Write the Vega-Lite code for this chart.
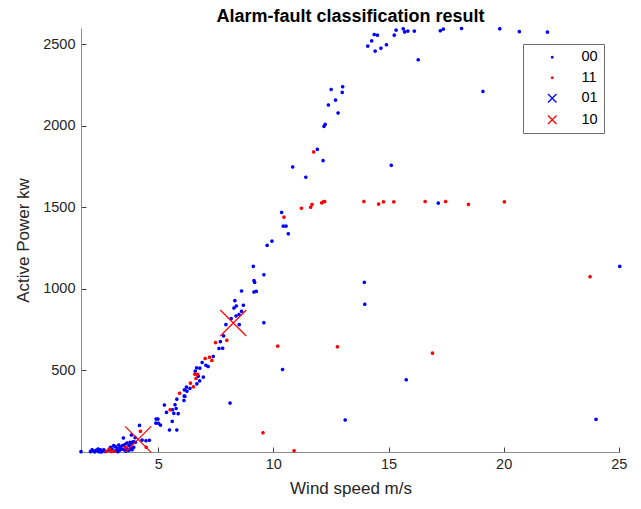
{
  "$schema": "https://vega.github.io/schema/vega-lite/v6.json",
  "width": 539,
  "height": 424,
  "autosize": {"type": "none"},
  "padding": {"left": 81, "top": 28, "right": 21, "bottom": 57},
  "background": "white",
  "title": {
    "text": "Alarm-fault classification result",
    "font": "Liberation Sans",
    "fontSize": 18,
    "fontWeight": "bold",
    "color": "#000000",
    "anchor": "middle",
    "offset": 1
  },
  "config": {
    "view": {"stroke": null},
    "axis": {
      "grid": false,
      "domainColor": "#8c8c8c",
      "domainWidth": 1,
      "tickColor": "#404040",
      "tickSize": -5,
      "tickWidth": 1,
      "labelFont": "Liberation Sans",
      "labelFontSize": 14.5,
      "labelColor": "#262626",
      "titleFont": "Liberation Sans",
      "titleFontSize": 17,
      "titleFontWeight": "normal",
      "titleColor": "#262626"
    }
  },
  "data": {
    "values": [
      {"wind": 10.84, "power": 1748, "class": "00"},
      {"wind": 11.41, "power": 1685, "class": "00"},
      {"wind": 11.91, "power": 1856, "class": "00"},
      {"wind": 12.16, "power": 1787, "class": "00"},
      {"wind": 12.2, "power": 1997, "class": "00"},
      {"wind": 12.25, "power": 2009, "class": "00"},
      {"wind": 12.39, "power": 2128, "class": "00"},
      {"wind": 12.51, "power": 2223, "class": "00"},
      {"wind": 12.7, "power": 2158, "class": "00"},
      {"wind": 12.81, "power": 2079, "class": "00"},
      {"wind": 12.99, "power": 2205, "class": "00"},
      {"wind": 13.01, "power": 2240, "class": "00"},
      {"wind": 14.1, "power": 2489, "class": "00"},
      {"wind": 14.27, "power": 2521, "class": "00"},
      {"wind": 14.38, "power": 2560, "class": "00"},
      {"wind": 14.52, "power": 2556, "class": "00"},
      {"wind": 14.42, "power": 2458, "class": "00"},
      {"wind": 14.67, "power": 2476, "class": "00"},
      {"wind": 14.91, "power": 2497, "class": "00"},
      {"wind": 15.25, "power": 2556, "class": "00"},
      {"wind": 15.33, "power": 2587, "class": "00"},
      {"wind": 15.64, "power": 2595, "class": "00"},
      {"wind": 15.7, "power": 2576, "class": "00"},
      {"wind": 15.84, "power": 2581, "class": "00"},
      {"wind": 16.12, "power": 2581, "class": "00"},
      {"wind": 16.29, "power": 2405, "class": "00"},
      {"wind": 15.12, "power": 1758, "class": "00"},
      {"wind": 17.25, "power": 2583, "class": "00"},
      {"wind": 17.38, "power": 2593, "class": "00"},
      {"wind": 18.17, "power": 2597, "class": "00"},
      {"wind": 19.83, "power": 2595, "class": "00"},
      {"wind": 20.68, "power": 2578, "class": "00"},
      {"wind": 21.9, "power": 2575, "class": "00"},
      {"wind": 19.1, "power": 2211, "class": "00"},
      {"wind": 17.16, "power": 1526, "class": "00"},
      {"wind": 13.95, "power": 1040, "class": "00"},
      {"wind": 13.97, "power": 906, "class": "00"},
      {"wind": 15.77, "power": 443, "class": "00"},
      {"wind": 13.12, "power": 196, "class": "00"},
      {"wind": 25.04, "power": 1138, "class": "00"},
      {"wind": 24.01, "power": 200, "class": "00"},
      {"wind": 10.4, "power": 506, "class": "00"},
      {"wind": 9.59, "power": 793, "class": "00"},
      {"wind": 8.12, "power": 300, "class": "00"},
      {"wind": 10.36, "power": 1469, "class": "00"},
      {"wind": 10.43, "power": 1385, "class": "00"},
      {"wind": 10.55, "power": 1385, "class": "00"},
      {"wind": 10.65, "power": 1338, "class": "00"},
      {"wind": 9.94, "power": 1293, "class": "00"},
      {"wind": 9.73, "power": 1267, "class": "00"},
      {"wind": 9.13, "power": 1138, "class": "00"},
      {"wind": 9.59, "power": 1087, "class": "00"},
      {"wind": 9.16, "power": 1051, "class": "00"},
      {"wind": 9.19, "power": 1040, "class": "00"},
      {"wind": 8.62, "power": 987, "class": "00"},
      {"wind": 9.16, "power": 981, "class": "00"},
      {"wind": 9.26, "power": 985, "class": "00"},
      {"wind": 8.33, "power": 928, "class": "00"},
      {"wind": 8.39, "power": 895, "class": "00"},
      {"wind": 8.7, "power": 900, "class": "00"},
      {"wind": 8.29, "power": 883, "class": "00"},
      {"wind": 8.62, "power": 863, "class": "00"},
      {"wind": 8.51, "power": 843, "class": "00"},
      {"wind": 8.38, "power": 834, "class": "00"},
      {"wind": 8.17, "power": 818, "class": "00"},
      {"wind": 7.94, "power": 781, "class": "00"},
      {"wind": 8.52, "power": 781, "class": "00"},
      {"wind": 7.84, "power": 712, "class": "00"},
      {"wind": 7.7, "power": 677, "class": "00"},
      {"wind": 7.64, "power": 635, "class": "00"},
      {"wind": 7.8, "power": 636, "class": "00"},
      {"wind": 7.39, "power": 586, "class": "00"},
      {"wind": 6.91, "power": 549, "class": "00"},
      {"wind": 7.07, "power": 532, "class": "00"},
      {"wind": 7.17, "power": 524, "class": "00"},
      {"wind": 6.67, "power": 516, "class": "00"},
      {"wind": 6.81, "power": 514, "class": "00"},
      {"wind": 6.61, "power": 496, "class": "00"},
      {"wind": 6.74, "power": 465, "class": "00"},
      {"wind": 6.96, "power": 459, "class": "00"},
      {"wind": 6.8, "power": 436, "class": "00"},
      {"wind": 6.68, "power": 418, "class": "00"},
      {"wind": 6.38, "power": 390, "class": "00"},
      {"wind": 6.14, "power": 381, "class": "00"},
      {"wind": 6.25, "power": 373, "class": "00"},
      {"wind": 6.13, "power": 343, "class": "00"},
      {"wind": 6.23, "power": 398, "class": "00"},
      {"wind": 6.16, "power": 341, "class": "00"},
      {"wind": 5.81, "power": 324, "class": "00"},
      {"wind": 6.12, "power": 316, "class": "00"},
      {"wind": 5.73, "power": 290, "class": "00"},
      {"wind": 5.27, "power": 288, "class": "00"},
      {"wind": 5.78, "power": 267, "class": "00"},
      {"wind": 5.62, "power": 259, "class": "00"},
      {"wind": 5.36, "power": 243, "class": "00"},
      {"wind": 5.68, "power": 237, "class": "00"},
      {"wind": 5.87, "power": 235, "class": "00"},
      {"wind": 4.91, "power": 202, "class": "00"},
      {"wind": 4.99, "power": 202, "class": "00"},
      {"wind": 4.9, "power": 177, "class": "00"},
      {"wind": 5.01, "power": 176, "class": "00"},
      {"wind": 5.61, "power": 188, "class": "00"},
      {"wind": 5.49, "power": 135, "class": "00"},
      {"wind": 5.81, "power": 135, "class": "00"},
      {"wind": 5.1, "power": 165, "class": "00"},
      {"wind": 4.19, "power": 163, "class": "00"},
      {"wind": 3.49, "power": 86, "class": "00"},
      {"wind": 3.84, "power": 104, "class": "00"},
      {"wind": 4.3, "power": 73, "class": "00"},
      {"wind": 4.47, "power": 69, "class": "00"},
      {"wind": 4.62, "power": 72, "class": "00"},
      {"wind": 3.93, "power": 63, "class": "00"},
      {"wind": 3.81, "power": 49, "class": "00"},
      {"wind": 1.65, "power": 2, "class": "00"},
      {"wind": 4.01, "power": 59, "class": "00"},
      {"wind": 4.0, "power": 88, "class": "00"},
      {"wind": 2.06, "power": 2, "class": "00"},
      {"wind": 2.13, "power": 14, "class": "00"},
      {"wind": 2.2, "power": 6, "class": "00"},
      {"wind": 2.3, "power": 10, "class": "00"},
      {"wind": 2.39, "power": 18, "class": "00"},
      {"wind": 2.42, "power": 2, "class": "00"},
      {"wind": 2.49, "power": 14, "class": "00"},
      {"wind": 2.53, "power": 0, "class": "00"},
      {"wind": 2.57, "power": 6, "class": "00"},
      {"wind": 2.64, "power": 14, "class": "00"},
      {"wind": 2.86, "power": 12, "class": "00"},
      {"wind": 2.93, "power": 29, "class": "00"},
      {"wind": 2.97, "power": 4, "class": "00"},
      {"wind": 3.0, "power": 18, "class": "00"},
      {"wind": 3.07, "power": 39, "class": "00"},
      {"wind": 3.14, "power": 33, "class": "00"},
      {"wind": 3.14, "power": 8, "class": "00"},
      {"wind": 3.22, "power": 23, "class": "00"},
      {"wind": 3.29, "power": 43, "class": "00"},
      {"wind": 3.32, "power": 10, "class": "00"},
      {"wind": 3.36, "power": 29, "class": "00"},
      {"wind": 3.4, "power": 18, "class": "00"},
      {"wind": 3.46, "power": 39, "class": "00"},
      {"wind": 3.51, "power": 14, "class": "00"},
      {"wind": 3.55, "power": 45, "class": "00"},
      {"wind": 3.61, "power": 23, "class": "00"},
      {"wind": 3.64, "power": 55, "class": "00"},
      {"wind": 3.73, "power": 39, "class": "00"},
      {"wind": 3.73, "power": 10, "class": "00"},
      {"wind": 3.78, "power": 59, "class": "00"},
      {"wind": 3.8, "power": 49, "class": "00"},
      {"wind": 3.8, "power": 23, "class": "00"},
      {"wind": 3.87, "power": 59, "class": "00"},
      {"wind": 3.87, "power": 14, "class": "00"},
      {"wind": 3.94, "power": 29, "class": "00"},
      {"wind": 2.25, "power": 1, "class": "00"},
      {"wind": 2.7, "power": 3, "class": "00"},
      {"wind": 3.25, "power": 2, "class": "00"},
      {"wind": 3.6, "power": 4, "class": "00"},
      {"wind": 11.22, "power": 1495, "class": "11"},
      {"wind": 11.62, "power": 1501, "class": "11"},
      {"wind": 11.68, "power": 1518, "class": "11"},
      {"wind": 12.1, "power": 1528, "class": "11"},
      {"wind": 12.17, "power": 1534, "class": "11"},
      {"wind": 12.23, "power": 1536, "class": "11"},
      {"wind": 13.93, "power": 1536, "class": "11"},
      {"wind": 14.57, "power": 1520, "class": "11"},
      {"wind": 14.78, "power": 1534, "class": "11"},
      {"wind": 15.23, "power": 1534, "class": "11"},
      {"wind": 16.59, "power": 1536, "class": "11"},
      {"wind": 17.48, "power": 1536, "class": "11"},
      {"wind": 18.47, "power": 1518, "class": "11"},
      {"wind": 20.03, "power": 1534, "class": "11"},
      {"wind": 23.75, "power": 1075, "class": "11"},
      {"wind": 12.78, "power": 645, "class": "11"},
      {"wind": 16.91, "power": 606, "class": "11"},
      {"wind": 10.19, "power": 649, "class": "11"},
      {"wind": 7.98, "power": 685, "class": "11"},
      {"wind": 7.49, "power": 671, "class": "11"},
      {"wind": 7.23, "power": 581, "class": "11"},
      {"wind": 7.04, "power": 573, "class": "11"},
      {"wind": 7.33, "power": 561, "class": "11"},
      {"wind": 6.59, "power": 477, "class": "11"},
      {"wind": 6.71, "power": 476, "class": "11"},
      {"wind": 6.64, "power": 451, "class": "11"},
      {"wind": 6.4, "power": 422, "class": "11"},
      {"wind": 6.53, "power": 400, "class": "11"},
      {"wind": 5.93, "power": 360, "class": "11"},
      {"wind": 10.46, "power": 1440, "class": "11"},
      {"wind": 11.75, "power": 1840, "class": "11"},
      {"wind": 9.55, "power": 118, "class": "11"},
      {"wind": 4.23, "power": 127, "class": "11"},
      {"wind": 4.48, "power": 29, "class": "11"},
      {"wind": 5.52, "power": 259, "class": "11"},
      {"wind": 10.9, "power": 8, "class": "11"},
      {"wind": 2.75, "power": 3, "class": "11"},
      {"wind": 2.88, "power": 18, "class": "11"},
      {"wind": 2.95, "power": 3, "class": "11"},
      {"wind": 3.08, "power": 5, "class": "11"},
      {"wind": 3.57, "power": 28, "class": "11"},
      {"wind": 4.13, "power": 77, "class": "10"},
      {"wind": 8.26, "power": 791, "class": "10"}
    ]
  },
  "encoding": {
    "x": {
      "field": "wind",
      "type": "quantitative",
      "title": "Wind speed m/s",
      "scale": {"domain": [1.65, 25.05], "nice": false, "zero": false},
      "axis": {"values": [5, 10, 15, 20, 25], "labelPadding": 10, "titlePadding": 10}
    },
    "y": {
      "field": "power",
      "type": "quantitative",
      "title": "Active Power kw",
      "scale": {"domain": [0, 2600], "nice": false},
      "axis": {"values": [500, 1000, 1500, 2000, 2500], "format": "d", "labelPadding": 11, "titlePadding": 10}
    },
    "color": {
      "field": "class",
      "type": "nominal",
      "scale": {
        "domain": ["00", "11", "01", "10"],
        "range": ["#0000ff", "#ff0000", "#0000ff", "#ff0000"]
      },
      "legend": {
        "title": null,
        "orient": "none",
        "legendX": 442,
        "legendY": 16,
        "padding": 6,
        "fillColor": "white",
        "strokeColor": "#6e6e6e",
        "cornerRadius": 0,
        "symbolSize": 72,
        "symbolStrokeWidth": 1.3,
        "symbolOffset": 16,
        "labelOffset": 22,
        "labelFont": "Liberation Sans",
        "labelFontSize": 14.5,
        "labelColor": "#000000",
        "rowPadding": 5.5
      }
    },
    "shape": {
      "field": "class",
      "type": "nominal",
      "scale": {
        "domain": ["00", "11", "01", "10"],
        "range": [
          "M0.2,0L0.14,0.14L0,0.2L-0.14,0.14L-0.2,0L-0.14,-0.14L0,-0.2L0.14,-0.14Z",
          "M0.2,0L0.14,0.14L0,0.2L-0.14,0.14L-0.2,0L-0.14,-0.14L0,-0.2L0.14,-0.14Z",
          "M-1,-1L1,1M-1,1L1,-1",
          "M-1,-1L1,1M-1,1L1,-1"
        ]
      }
    }
  },
  "layer": [
    {
      "transform": [{"filter": "datum['class'] == '00' || datum['class'] == '11'"}],
      "mark": {"type": "point", "filled": false, "size": 27, "strokeWidth": 2.6, "strokeJoin": "round", "opacity": 1}
    },
    {
      "transform": [{"filter": "datum['class'] == '01' || datum['class'] == '10'"}],
      "mark": {"type": "point", "filled": false, "size": 676, "strokeWidth": 1.2, "opacity": 1}
    }
  ]
}
